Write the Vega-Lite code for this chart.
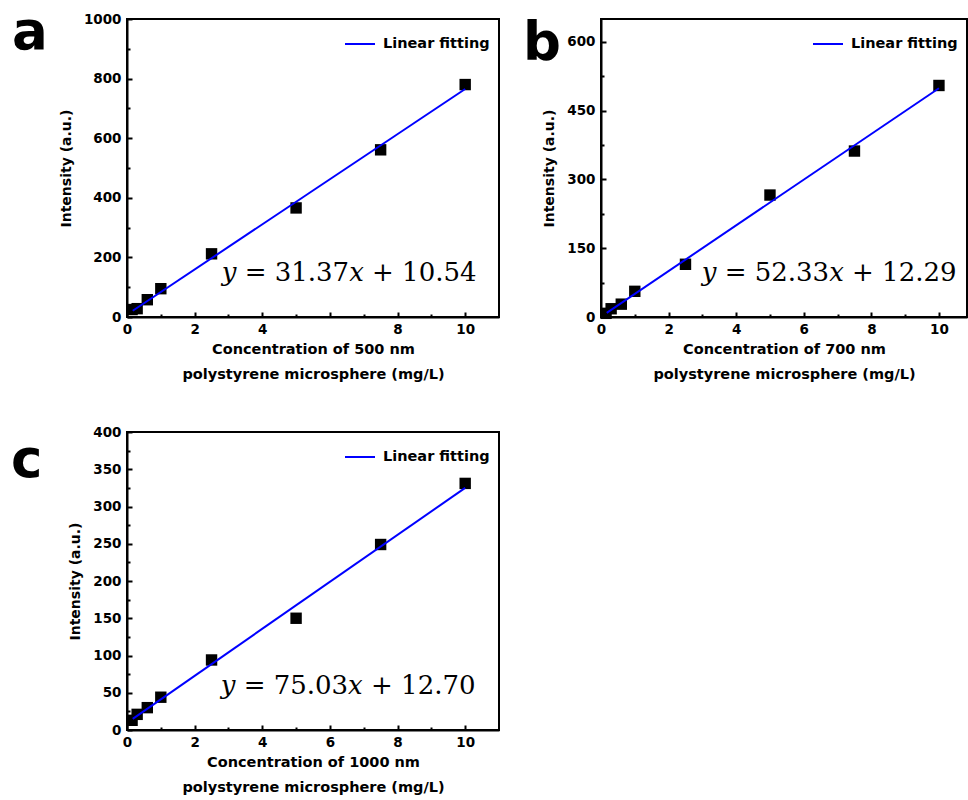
{
  "$schema": "https://vega.github.io/schema/vega-lite/v6.json",
  "background": "white",
  "padding": {"left": 10, "top": 6, "right": 0, "bottom": 0},
  "config": {
    "view": {"stroke": "black", "strokeWidth": 2},
    "axis": {
      "grid": false,
      "domainColor": "black",
      "domainWidth": 2,
      "tickColor": "black",
      "tickWidth": 2,
      "labelFont": "DejaVu Sans",
      "labelFontWeight": "bold",
      "labelFontSize": 13.5,
      "labelColor": "black",
      "labelFlush": false,
      "labelOverlap": false,
      "titleFont": "DejaVu Sans",
      "titleFontWeight": "bold",
      "titleFontSize": 14,
      "titleColor": "black"
    },
    "axisX": {"labelPadding": 10, "titlePadding": 5, "titleLineHeight": 25, "titleFontSize": 14.5},
    "axisY": {"labelPadding": 11, "titlePadding": 10},
    "legend": {
      "orient": "top-right",
      "offset": 9,
      "padding": 0,
      "symbolType": "stroke",
      "symbolSize": 900,
      "symbolStrokeWidth": 2,
      "labelFont": "DejaVu Sans",
      "labelFontWeight": "bold",
      "labelFontSize": 14.5,
      "labelColor": "black",
      "labelOffset": 7,
      "title": null
    },
    "title": {
      "anchor": "start",
      "frame": "group",
      "font": "DejaVu Sans",
      "fontSize": 53,
      "fontWeight": "bold",
      "color": "black",
      "baseline": "alphabetic",
      "offset": 0
    }
  },
  "datasets": {
    "a_pts": [
      {"conc": 0.15, "intensity": 25}, {"conc": 0.3, "intensity": 28}, {"conc": 0.6, "intensity": 58},
      {"conc": 1, "intensity": 95}, {"conc": 2.5, "intensity": 212}, {"conc": 5, "intensity": 366},
      {"conc": 7.5, "intensity": 561}, {"conc": 10, "intensity": 780}
    ],
    "a_fit": [
      {"conc": 0.17, "intensity": 21, "series": "Linear fitting"},
      {"conc": 10, "intensity": 765, "series": "Linear fitting"}
    ],
    "a_eq": [{"conc": 2.8, "intensity": 121, "label": "𝑦 = 31.37𝑥 + 10.54"}],
    "b_pts": [
      {"conc": 0.15, "intensity": 8}, {"conc": 0.3, "intensity": 18}, {"conc": 0.6, "intensity": 28},
      {"conc": 1, "intensity": 56}, {"conc": 2.5, "intensity": 115}, {"conc": 5, "intensity": 266},
      {"conc": 7.5, "intensity": 362}, {"conc": 10, "intensity": 505}
    ],
    "b_fit": [
      {"conc": 0.17, "intensity": 9, "series": "Linear fitting"},
      {"conc": 10, "intensity": 499, "series": "Linear fitting"}
    ],
    "b_eq": [{"conc": 2.98, "intensity": 79, "label": "𝑦 = 52.33𝑥 + 12.29"}],
    "c_pts": [
      {"conc": 0.15, "intensity": 13}, {"conc": 0.3, "intensity": 21}, {"conc": 0.6, "intensity": 30},
      {"conc": 1, "intensity": 44}, {"conc": 2.5, "intensity": 94}, {"conc": 5, "intensity": 150},
      {"conc": 7.5, "intensity": 249}, {"conc": 10, "intensity": 331}
    ],
    "c_fit": [
      {"conc": 0.17, "intensity": 15, "series": "Linear fitting"},
      {"conc": 10, "intensity": 325, "series": "Linear fitting"}
    ],
    "c_eq": [{"conc": 2.77, "intensity": 48, "label": "𝑦 = 75.03𝑥 + 12.70"}]
  },
  "columns": 2,
  "spacing": {"row": 115, "column": 102},
  "bounds": "flush",
  "resolve": {"scale": {"color": "independent", "x": "independent", "y": "independent"}},
  "concat": [
    {
      "width": 372,
      "height": 298,
      "title": {"text": "a", "dx": -115, "dy": 52},
      "encoding": {
        "x": {
          "field": "conc", "type": "quantitative",
          "scale": {"domain": [0, 11], "nice": false, "zero": false},
          "axis": {
            "title": ["Concentration of 500 nm", "polystyrene microsphere (mg/L)"],
            "values": [0, 1, 2, 3, 4, 5, 6, 7, 8, 9, 10],
            "labelExpr": "datum.value % 2 === 0 && datum.value !== 6 ? datum.label : ''",
            "tickSize": {"condition": {"test": "datum.value % 2 === 0", "value": -5}, "value": -3}
          }
        },
        "y": {
          "field": "intensity", "type": "quantitative",
          "scale": {"domain": [0, 1000], "nice": false},
          "axis": {
            "title": "Intensity (a.u.)",
            "values": [0, 100, 200, 300, 400, 500, 600, 700, 800, 900, 1000],
            "labelExpr": "datum.value % 200 === 0 ? datum.label : ''",
            "format": "d",
            "tickSize": {"condition": {"test": "datum.value % 200 === 0", "value": -5}, "value": -3}
          }
        }
      },
      "layer": [
        {
          "data": {"name": "a_pts"},
          "mark": {"type": "point", "shape": "square", "filled": true, "color": "black", "opacity": 1, "size": 130}
        },
        {
          "data": {"name": "a_fit"},
          "mark": {"type": "line", "strokeWidth": 2},
          "encoding": {"color": {"field": "series", "type": "nominal", "scale": {"range": ["#0000ff"]}}}
        },
        {
          "data": {"name": "a_eq"},
          "mark": {"type": "text", "font": "DejaVu Serif", "fontSize": 26, "align": "left", "baseline": "alphabetic", "color": "black"},
          "encoding": {"text": {"field": "label"}}
        }
      ]
    },
    {
      "width": 366,
      "height": 298,
      "title": {"text": "b", "dx": -78, "dy": 56},
      "encoding": {
        "x": {
          "field": "conc", "type": "quantitative",
          "scale": {"domain": [0, 10.83], "nice": false, "zero": false},
          "axis": {
            "title": ["Concentration of 700 nm", "polystyrene microsphere (mg/L)"],
            "values": [0, 1, 2, 3, 4, 5, 6, 7, 8, 9, 10],
            "labelExpr": "datum.value % 2 === 0 ? datum.label : ''",
            "tickSize": {"condition": {"test": "datum.value % 2 === 0", "value": -5}, "value": -3}
          }
        },
        "y": {
          "field": "intensity", "type": "quantitative",
          "scale": {"domain": [0, 650], "nice": false},
          "axis": {
            "title": "Intensity (a.u.)",
            "values": [0, 75, 150, 225, 300, 375, 450, 525, 600],
            "labelExpr": "datum.value % 150 === 0 ? datum.label : ''",
            "format": "d",
            "tickSize": {"condition": {"test": "datum.value % 150 === 0", "value": -5}, "value": -3}
          }
        }
      },
      "layer": [
        {
          "data": {"name": "b_pts"},
          "mark": {"type": "point", "shape": "square", "filled": true, "color": "black", "opacity": 1, "size": 130}
        },
        {
          "data": {"name": "b_fit"},
          "mark": {"type": "line", "strokeWidth": 2},
          "encoding": {"color": {"field": "series", "type": "nominal", "scale": {"range": ["#0000ff"]}}}
        },
        {
          "data": {"name": "b_eq"},
          "mark": {"type": "text", "font": "DejaVu Serif", "fontSize": 26, "align": "left", "baseline": "alphabetic", "color": "black"},
          "encoding": {"text": {"field": "label"}}
        }
      ]
    },
    {
      "width": 372,
      "height": 298,
      "title": {"text": "c", "dx": -116, "dy": 67},
      "encoding": {
        "x": {
          "field": "conc", "type": "quantitative",
          "scale": {"domain": [0, 11], "nice": false, "zero": false},
          "axis": {
            "title": ["Concentration of 1000 nm", "polystyrene microsphere (mg/L)"],
            "values": [0, 1, 2, 3, 4, 5, 6, 7, 8, 9, 10],
            "labelExpr": "datum.value % 2 === 0 ? datum.label : ''",
            "tickSize": {"condition": {"test": "datum.value % 2 === 0", "value": -5}, "value": -3}
          }
        },
        "y": {
          "field": "intensity", "type": "quantitative",
          "scale": {"domain": [0, 400], "nice": false},
          "axis": {
            "title": "Intensity (a.u.)",
            "values": [0, 25, 50, 75, 100, 125, 150, 175, 200, 225, 250, 275, 300, 325, 350, 375, 400],
            "labelExpr": "datum.value % 50 === 0 ? datum.label : ''",
            "format": "d",
            "tickSize": {"condition": {"test": "datum.value % 50 === 0", "value": -5}, "value": -3}
          }
        }
      },
      "layer": [
        {
          "data": {"name": "c_pts"},
          "mark": {"type": "point", "shape": "square", "filled": true, "color": "black", "opacity": 1, "size": 130}
        },
        {
          "data": {"name": "c_fit"},
          "mark": {"type": "line", "strokeWidth": 2},
          "encoding": {"color": {"field": "series", "type": "nominal", "scale": {"range": ["#0000ff"]}}}
        },
        {
          "data": {"name": "c_eq"},
          "mark": {"type": "text", "font": "DejaVu Serif", "fontSize": 26, "align": "left", "baseline": "alphabetic", "color": "black"},
          "encoding": {"text": {"field": "label"}}
        }
      ]
    }
  ]
}
